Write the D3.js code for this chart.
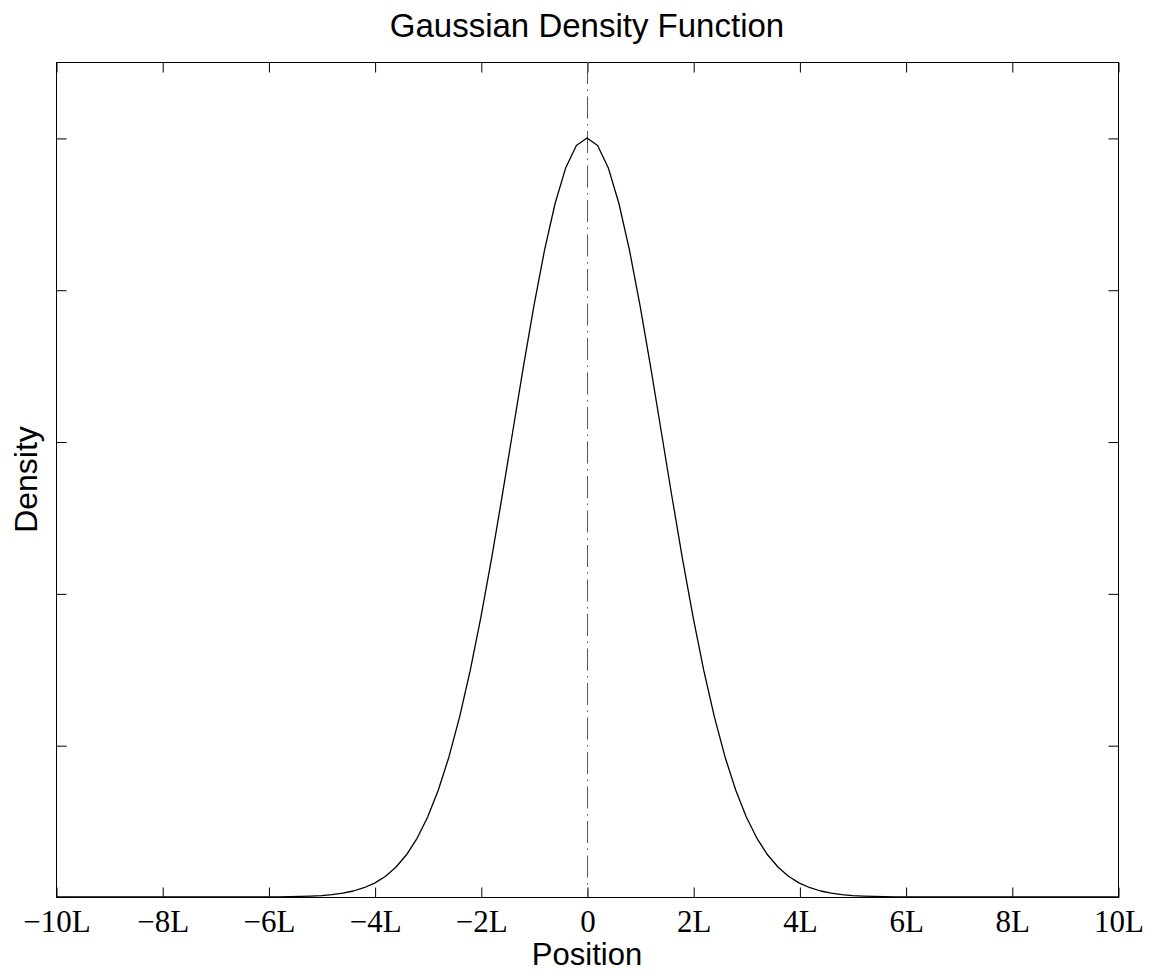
<!DOCTYPE html>
<html>
<head>
<meta charset="utf-8">
<script src="https://cdn.jsdelivr.net/npm/d3@7"></script>
<style>
  body { margin: 0; background: #fff; }
  .axis path.domain { display: none; }
  .axis line { stroke: #000; stroke-width: 1; }
</style>
</head>
<body>
<div id="chart"></div>
<script>
// positions in units of L, density (peak normalised to 1)
const positions = [
  -10,
  -6.0, -5.8, -5.6, -5.4, -5.2, -5.0, -4.8, -4.6, -4.4, -4.2,
  -4.0, -3.8, -3.6, -3.4, -3.2, -3.0, -2.8, -2.6, -2.4, -2.2,
  -2.0, -1.8, -1.6, -1.4, -1.2, -1.0, -0.8, -0.6, -0.4, -0.2,
  0,
  0.2, 0.4, 0.6, 0.8, 1.0, 1.2, 1.4, 1.6, 1.8, 2.0,
  2.2, 2.4, 2.6, 2.8, 3.0, 3.2, 3.4, 3.6, 3.8, 4.0,
  4.2, 4.4, 4.6, 4.8, 5.0, 5.2, 5.4, 5.6, 5.8, 6.0,
  10
];
const density = [
  0,
  0.0001, 0.0002, 0.0004, 0.0007, 0.0012, 0.0019, 0.0032, 0.0050, 0.0079, 0.0122,
  0.0183, 0.0271, 0.0392, 0.0556, 0.0773, 0.1054, 0.1409, 0.1845, 0.2369, 0.2982,
  0.3679, 0.4449, 0.5273, 0.6126, 0.6977, 0.7788, 0.8521, 0.9139, 0.9608, 0.9900,
  1,
  0.9900, 0.9608, 0.9139, 0.8521, 0.7788, 0.6977, 0.6126, 0.5273, 0.4449, 0.3679,
  0.2982, 0.2369, 0.1845, 0.1409, 0.1054, 0.0773, 0.0556, 0.0392, 0.0271, 0.0183,
  0.0122, 0.0079, 0.0050, 0.0032, 0.0019, 0.0012, 0.0007, 0.0004, 0.0002, 0.0001,
  0
];

const xTicks = [-10, -8, -6, -4, -2, 0, 2, 4, 6, 8, 10];
const xTickLabels = ["\u221210L", "\u22128L", "\u22126L", "\u22124L", "\u22122L", "0", "2L", "4L", "6L", "8L", "10L"];
const yTicks = [0.2, 0.4, 0.6, 0.8, 1.0];
const xDomain = [-10, 10];
const yDomain = [0, 1.1];

const W = 1152, H = 971;
const margin = { top: 62, right: 34, bottom: 74, left: 56 };
const width = W - margin.left - margin.right;
const height = H - margin.top - margin.bottom;

const data = positions.map((p, i) => ({ x: p, y: density[i] }));

const xScale = d3.scaleLinear().domain(xDomain).range([0, width]);
const yScale = d3.scaleLinear().domain(yDomain).range([height, 0]);

const svg = d3.select("#chart")
  .append("svg")
  .attr("width", W)
  .attr("height", H)
  .append("g")
  .attr("transform", `translate(${margin.left},${margin.top})`);

// frame
svg.append("rect")
  .attr("x", 0.5).attr("y", 0.5)
  .attr("width", width).attr("height", height)
  .attr("fill", "none").attr("stroke", "#000").attr("stroke-width", 1);

// bottom ticks + labels (ticks point inward)
const bottom = svg.append("g")
  .attr("class", "axis")
  .attr("transform", `translate(0.5,${height + 0.5})`)
  .call(d3.axisBottom(xScale).tickValues(xTicks).tickSizeInner(-10).tickSizeOuter(0)
    .tickFormat((d, i) => xTickLabels[i]));
bottom.selectAll("text")
  .attr("y", 34).attr("dy", null)
  .attr("fill", "#000")
  .style("font-family", "'Liberation Serif', 'Times New Roman', serif")
  .style("font-size", "31px");

svg.append("g")
  .attr("class", "axis")
  .attr("transform", "translate(0.5,0.5)")
  .call(d3.axisTop(xScale).tickValues(xTicks).tickSizeInner(-10).tickSizeOuter(0).tickFormat(""));

svg.append("g")
  .attr("class", "axis")
  .attr("transform", "translate(0.5,0.5)")
  .call(d3.axisLeft(yScale).tickValues(yTicks).tickSizeInner(-10).tickSizeOuter(0).tickFormat(""));

svg.append("g")
  .attr("class", "axis")
  .attr("transform", `translate(${width + 0.5},0.5)`)
  .call(d3.axisRight(yScale).tickValues(yTicks).tickSizeInner(-10).tickSizeOuter(0).tickFormat(""));

// centre line, dash-dot
svg.append("line")
  .attr("x1", xScale(0) + 0.5).attr("x2", xScale(0) + 0.5)
  .attr("y1", 0).attr("y2", height)
  .attr("stroke", "#555")
  .attr("stroke-width", 1)
  .attr("stroke-dasharray", "22,5.5,1.5,5.5");

const line = d3.line()
  .x((d) => xScale(d.x))
  .y((d) => yScale(d.y));

svg.append("path")
  .datum(data)
  .attr("fill", "none")
  .attr("stroke", "#000")
  .attr("stroke-width", 1.3)
  .attr("stroke-linejoin", "round")
  .attr("d", line);

const sans = "'Liberation Sans', Arial, Helvetica, sans-serif";

svg.append("text")
  .attr("x", width / 2).attr("y", 37 - margin.top)
  .attr("text-anchor", "middle")
  .style("font-family", sans).style("font-size", "33px")
  .text("Gaussian Density Function");

svg.append("text")
  .attr("x", width / 2).attr("y", height + 68)
  .attr("text-anchor", "middle")
  .style("font-family", sans).style("font-size", "31px")
  .text("Position");

svg.append("text")
  .attr("transform", `translate(${37 - margin.left},${height / 2}) rotate(-90)`)
  .attr("text-anchor", "middle")
  .style("font-family", sans).style("font-size", "32px")
  .text("Density");
</script>
</body>
</html>
